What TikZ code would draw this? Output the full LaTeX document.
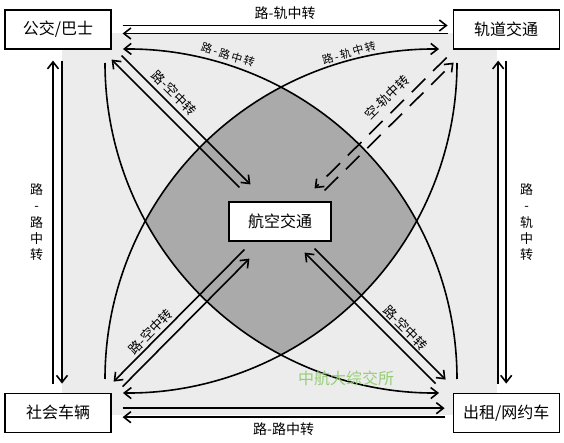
\documentclass[tikz,border=0pt]{standalone}
\usepackage{fontspec}
\setmainfont{Noto Sans CJK SC}
\usetikzlibrary{positioning,arrows.meta}
\definecolor{lightbg}{RGB}{236,236,236}
\definecolor{hubgray}{RGB}{170,170,170}
\definecolor{markgreen}{RGB}{150,206,120}

\begin{document}
\begin{tikzpicture}[x=1pt, y=-1pt,
			mode/.style={draw, fill=white, line width=1.2pt, minimum width=106pt, minimum height=39pt, inner sep=0pt, font=\fontsize{16}{16}\selectfont},
			link/.style={line width=1.6pt, -{Straight Barb[length=7pt,width=11pt]}},
			railgap/.style={dash pattern=on 19pt off 11pt},
			tag/.style={inner sep=0pt, font=\fontsize{13}{13}\selectfont},
			arctag/.style={inner sep=0pt, font=\fontsize{11}{11}\selectfont}
		]
		\useasboundingbox (0,0) rectangle (564,443);
		\fill[lightbg] (62,33) rectangle (497,415);

		% centres of the four big arcs
		\coordinate (cA) at (127,379);
		\coordinate (cB) at (435,379);
		\coordinate (cC) at (127,63);
		\coordinate (cD) at (435,63);

		\begin{scope}
			\clip (cA) circle[radius=330];
			\clip (cB) circle[radius=330];
			\clip (cC) circle[radius=330];
			\fill[hubgray] (cD) circle[radius=330];
		\end{scope}

		\node[mode] (bus) at (58,29.5) {公交/巴士};
		\node[mode] (rail) [right=341pt of bus] {轨道交通};
		\node[mode] (car) [below=343pt of bus] {社会车辆};
		\node[mode] (taxi) [right=341pt of car] {出租/网约车};
		\node[mode, minimum width=102pt] (air) at (280,221.5) {航空交通};

		% arcs
		\coordinate (aEnd) at (457,379);
		\coordinate (bEnd) at (105,379);
		\coordinate (cEnd) at (457,63);
		\coordinate (dEnd) at (105,63);
		\draw[link] (aEnd) arc[start angle=0, end angle=-90.7, radius=330];
		\draw[link] (bEnd) arc[start angle=180, end angle=270.7, radius=330];
		\draw[link] (cEnd) arc[start angle=0, end angle=90.7, radius=330];
		\draw[link] (dEnd) arc[start angle=180, end angle=89.3, radius=330];
		\node[arctag, rotate=-17] at (228,55) {路\,-\,路\,中\,转};
		\node[arctag, rotate=16] at (349,53) {路\,-\,轨\,中\,转};

		% outer pairs
		\draw[link] ([shift={(11,-4)}]bus.east) -- node[tag, midway, above=5pt, font=\fontsize{14}{14}\selectfont] {路-轨中转} ([shift={(-5,-4)}]rail.west);
		\draw[link] ([shift={(-5,4)}]rail.west) -- ([shift={(11,4)}]bus.east);
		\draw[link] ([shift={(11,-4.5)}]car.east) -- ([shift={(-8,-4.5)}]taxi.west);
		\draw[link] ([shift={(-8,4.5)}]taxi.west) -- node[tag, midway, below=5pt, font=\fontsize{14}{14}\selectfont] {路-路中转} ([shift={(11,4.5)}]car.east);
		\draw[link] ([shift={(-5,-9)}]car.north) -- node[tag, midway, left=9pt, align=center, font=\fontsize{13}{16.3}\selectfont] {路\\-\\路\\中\\转} ([shift={(-5,11)}]bus.south);
		\draw[link] ([shift={(4,11)}]bus.south) -- ([shift={(4,-9)}]car.north);
		\draw[link] ([shift={(-8,-9)}]taxi.north) -- ([shift={(-8,11)}]rail.south);
		\draw[link] ([shift={(0,11)}]rail.south) -- node[tag, midway, right=13pt, align=center, font=\fontsize{13}{16.3}\selectfont] {路\\-\\轨\\中\\转} ([shift={(0,-9)}]taxi.north);

		% pairs to the airport
		\draw[link] ([shift={(11,-14)}]air.north west) -- ([shift={(0,10)}]bus.south east);
		\draw[link] ([shift={(10,6)}]bus.south east) -- node[tag, pos=0.35, sloped, above=4pt] {路-空中转} ([shift={(22,-17)}]air.north west);
		\draw[link, railgap] ([shift={(-6,8)}]rail.south west) -- node[tag, pos=0.38, sloped, above=7pt] {空-轨中转} ([shift={(-17,-13)}]air.north east);
		\draw[link, railgap] ([shift={(-7,-11)}]air.north east) -- ([shift={(1,13)}]rail.south west);
		\draw[link] ([shift={(16,8)}]air.south west) -- node[tag, pos=0.67, sloped, above=2pt] {路-空中转} ([shift={(2,-11)}]car.north east);
		\draw[link] ([shift={(11,-6)}]car.north east) -- ([shift={(21,17)}]air.south west);
		\draw[link] ([shift={(-17,-9)}]taxi.north west) -- ([shift={(-27,11)}]air.south east);
		\draw[link] ([shift={(-17,7)}]air.south east) -- node[tag, pos=0.65, sloped, above=1.5pt] {路-空中转} ([shift={(-7,-13)}]taxi.north west);

		\node[text=markgreen, font=\fontsize{16}{16}\selectfont] (mark) at (346,378) {中航大综交所};
\end{tikzpicture}
\end{document}
